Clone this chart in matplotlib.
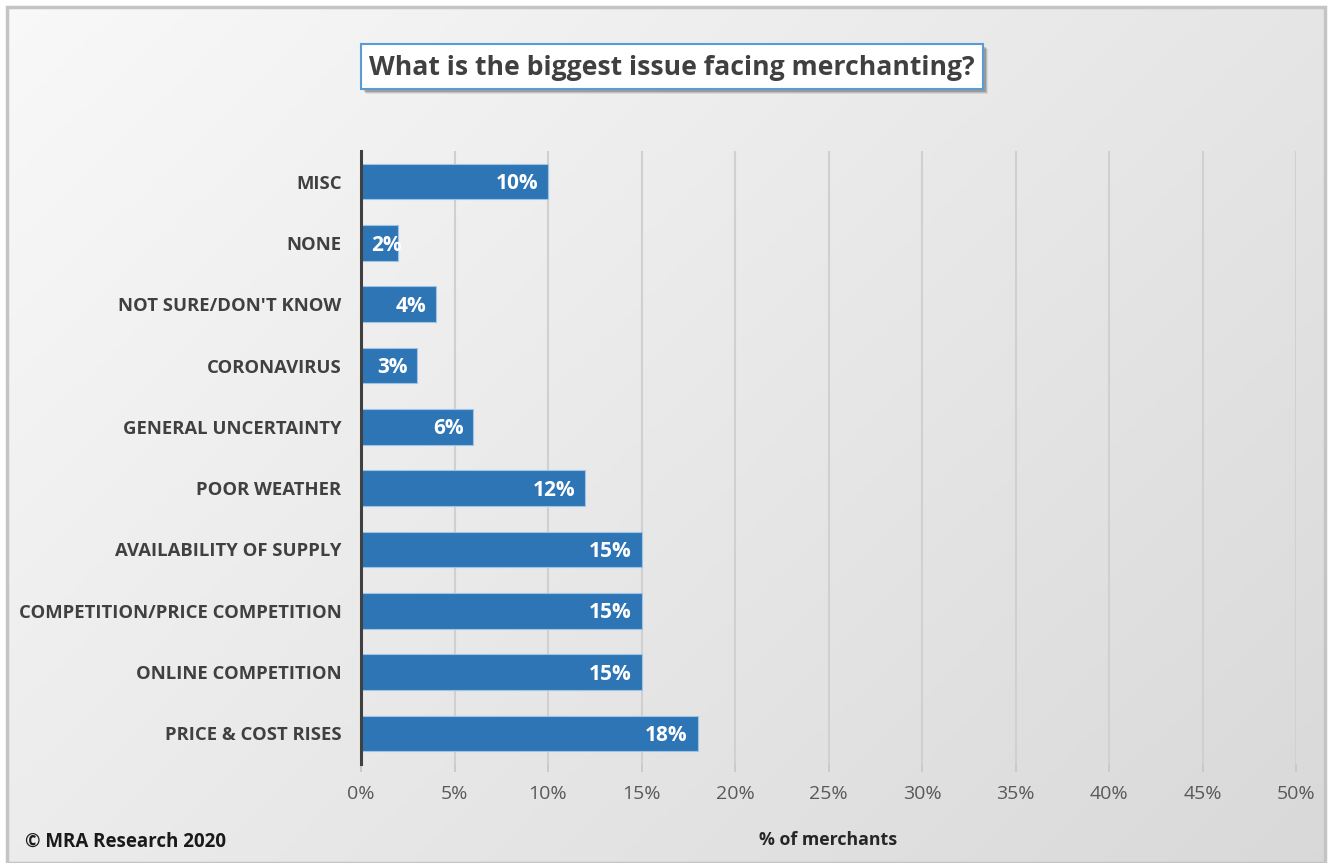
import numpy as np
import matplotlib.pyplot as plt
from matplotlib.patches import Rectangle
from matplotlib.ticker import PercentFormatter

categories = ["PRICE & COST RISES", "ONLINE COMPETITION", "COMPETITION/PRICE COMPETITION",
              "AVAILABILITY OF SUPPLY", "POOR WEATHER", "GENERAL UNCERTAINTY",
              "CORONAVIRUS", "NOT SURE/DON'T KNOW", "NONE", "MISC"]
values = [18, 15, 15, 15, 12, 6, 3, 4, 2, 10]
xticks = [0, 5, 10, 15, 20, 25, 30, 35, 40, 45, 50]

plt.rcParams['font.family'] = ['Open Sans', 'DejaVu Sans']

W, H = 1332, 863
fig = plt.figure(figsize=(W / 100, H / 100), dpi=100)
fig.patch.set_facecolor('white')

# gradient background inside the frame (light top-left -> grey bottom-right)
bg = fig.add_axes([7/W, 0, 1 - 14/W, 1 - 7/H])
bg.set_axis_off()
gx, gy = np.meshgrid(np.linspace(0, 1, 300), np.linspace(0, 1, 200))
g = 0.975 - 0.125 * (gx * 0.6 + gy * 0.4)
img = np.dstack([g, g, g])
bg.imshow(img, aspect='auto', extent=[0, 1, 0, 1], origin='upper')
bg.set_xlim(0, 1)
bg.set_ylim(0, 1)
bg.add_patch(Rectangle((0, 0), 1, 1, transform=bg.transAxes, fill=False, edgecolor='#c4c4c4', lw=2.5,
                       clip_on=False))

ax = fig.add_axes([361/W, 1 - 764/H, 935/W, (764 - 151)/H])
ax.patch.set_alpha(0)
y = np.arange(len(categories))
ax.barh(y, values, height=0.58, color='#2e75b6', edgecolor='#9dc3e6', lw=0.8, zorder=3)
ax.set_xlim(0, 50)
ax.set_ylim(-0.5, len(categories) - 0.5)
ax.set_xticks(xticks)
ax.xaxis.set_major_formatter(PercentFormatter(decimals=0))
ax.set_yticks(y)
ax.set_yticklabels(categories, fontsize=13.3, fontweight='bold', color='#404040')
ax.tick_params(axis='y', length=0, pad=14)
ax.tick_params(axis='x', length=6, width=1.3, color='#c8c8c8', labelsize=14, labelcolor='#595959', pad=9)
ax.grid(axis='x', color='#d0d0d0', lw=1.5, zorder=0)
for s in ['top', 'right', 'bottom']:
    ax.spines[s].set_visible(False)
ax.spines['left'].set_color('#404040')
ax.spines['left'].set_linewidth(2.2)
ax.spines['left'].set_zorder(4)

for yi, v in zip(y, values):
    if v >= 3:
        ax.annotate(f"{v}%", (v, yi), xytext=(-7, -1.5), textcoords='offset points', ha='right', va='center',
                    color='white', fontsize=15, fontweight='bold', zorder=5)
    else:
        ax.annotate(f"{v}%", (0, yi), xytext=(7, -1.5), textcoords='offset points', ha='left', va='center',
                    color='white', fontsize=15, fontweight='bold', zorder=5)

ax.set_xlabel("% of merchants", fontsize=12.8, fontweight='bold', color='#262626', labelpad=20)

# title box with a soft drop shadow
bx0, bx1, by0, by1 = 361, 983, 44, 89
for k, a in [(5, 0.08), (4, 0.12), (3, 0.18)]:
    fig.patches.append(Rectangle(((bx0 + k) / W, 1 - (by1 + k) / H), (bx1 - bx0) / W, (by1 - by0) / H,
                                 transform=fig.transFigure, facecolor='black', alpha=a, edgecolor='none'))
fig.patches.append(Rectangle((bx0 / W, 1 - by1 / H), (bx1 - bx0) / W, (by1 - by0) / H,
                             transform=fig.transFigure, facecolor='white', edgecolor='#5b9bd5', lw=1.5))
fig.text((bx0 + bx1) / 2 / W, 1 - 68/H, "What is the biggest issue facing merchanting?", ha='center', va='center',
         fontsize=19.2, fontweight='bold', color='#404040')

fig.text(25/W, 1 - 842/H, "© MRA Research 2020", ha='left', va='center', fontsize=13.5,
         fontweight='bold', color='#1a1a1a')

fig.savefig("out.png", dpi=100)
